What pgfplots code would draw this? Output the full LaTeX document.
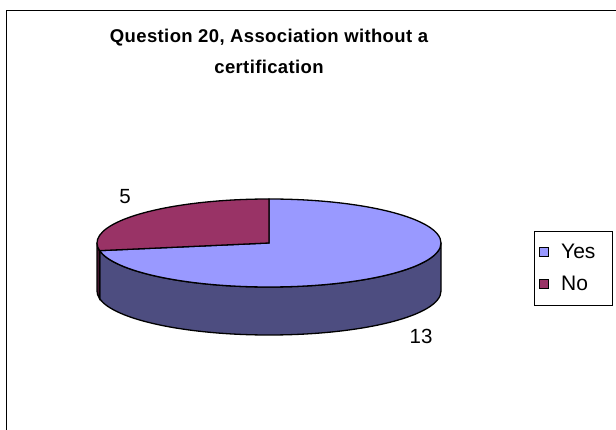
\documentclass[border=0pt]{standalone}
\usepackage{pgfplots}
\usepackage{pgfplotstable}
\pgfplotsset{compat=1.18}
\usepackage{fontspec}
\setmainfont{Liberation Sans}
\newfontfamily\titlefont[LetterSpace=2]{Liberation Sans}

\definecolor{yesc}{HTML}{9999FF}
\definecolor{noc}{HTML}{993366}
\definecolor{yesside}{HTML}{4D4D80}
\definecolor{noside}{HTML}{4D1A33}

% answers to question 20
\pgfplotstableread{
label value
Yes 13
No 5
}\piedata

\begin{document}
\begin{tikzpicture}
\pgfplotstablegetelem{0}{value}\of\piedata \let\vyes\pgfplotsretval
\pgfplotstablegetelem{1}{value}\of\piedata \let\vno\pgfplotsretval
\pgfmathsetmacro\ayes{360*\vyes/(\vyes+\vno)}
\pgfmathsetmacro\asplit{450-\ayes}
\begin{axis}[
  scale only axis, width=616pt, height=430pt,
  xmin=0, xmax=616, ymin=0, ymax=430, y dir=reverse,
  hide axis, clip=false,
  legend style={at={(axis cs:534,231)}, anchor=north west, draw=black, line width=0.8pt,
    font=\fontsize{21}{22}\selectfont, inner xsep=5pt, inner ysep=11pt,
    row sep=12pt, cells={anchor=west}},
  legend image code/.code={\draw[#1, line width=0.8pt] (0pt,-4.5pt) rectangle (9pt,4.5pt);},
]
% frame
\draw[line width=1.5pt] (6.5,430) -- (6.5,10.5) -- (616,10.5);

% side wall
\filldraw[fill=yesside, draw=black, line width=1.3pt]
  (269,243) ++(\asplit:172pt and 44pt)
  arc[start angle=\asplit, end angle=360, x radius=172pt, y radius=44pt]
  -- ++(0,-48pt)
  arc[start angle=360, end angle=\asplit, x radius=172pt, y radius=44pt] -- cycle;
\filldraw[fill=noside, draw=black, line width=1.3pt]
  (269,243) ++(180:172pt and 44pt)
  arc[start angle=180, end angle=\asplit, x radius=172pt, y radius=44pt]
  -- ++(0,-48pt)
  arc[start angle=\asplit, end angle=180, x radius=172pt, y radius=44pt] -- cycle;

% top
\filldraw[fill=yesc, draw=black, line width=1.3pt]
  (269,243) -- ++(90:172pt and 44pt)
  arc[start angle=90, end angle=\asplit-360, x radius=172pt, y radius=44pt] -- cycle;
\filldraw[fill=noc, draw=black, line width=1.3pt]
  (269,243) -- ++(90:172pt and 44pt)
  arc[start angle=90, end angle=\asplit, x radius=172pt, y radius=44pt] -- cycle;

% data labels
\node[font=\fontsize{20.5}{22}\selectfont] at (125,197) {\vno};
\node[font=\fontsize{20.5}{22}\selectfont] at (421,336) {\vyes};

% title
\node[font=\titlefont\bfseries\fontsize{18.5}{22}\selectfont, anchor=base] at (269,42.5) {Question 20, Association without a};
\node[font=\titlefont\bfseries\fontsize{18.5}{22}\selectfont, anchor=base] at (269,74) {certification};

\addlegendimage{fill=yesc, draw=black}
\addlegendentry{\makebox[54pt][l]{\hspace*{10pt}Yes}}
\addlegendimage{fill=noc, draw=black}
\addlegendentry{\makebox[54pt][l]{\hspace*{10pt}No}}
\end{axis}
\pgfresetboundingbox
\path[use as bounding box] (current axis.south west) rectangle (current axis.north east);
\end{tikzpicture}
\end{document}
